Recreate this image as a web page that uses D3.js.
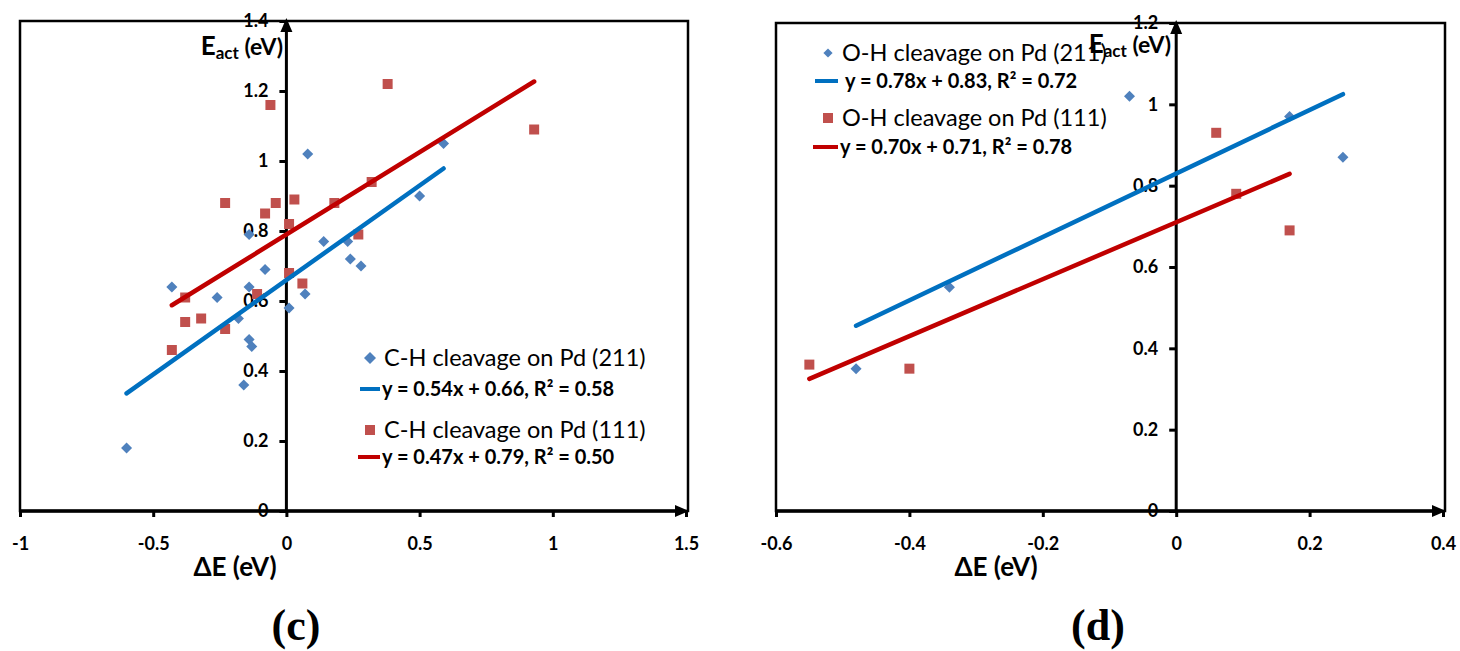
<!DOCTYPE html>
<html>
<head>
<meta charset="utf-8">
<script src="https://cdn.jsdelivr.net/npm/d3@7"></script>
<style>
  html, body { margin: 0; padding: 0; background: #fff; }
  svg { display: block; }
  .tick-label { font-family: Lato, "Open Sans", sans-serif; font-weight: 700; font-size: 18px; fill: #000; }
  .axis-title { font-family: Lato, "Open Sans", sans-serif; font-weight: 700; fill: #000; }
  .legend-name { font-family: Lato, "Open Sans", sans-serif; font-size: 23.5px; fill: #000; }
  .legend-eq { font-family: Lato, "Open Sans", sans-serif; font-weight: 700; font-size: 20px; fill: #000; }
  .panel-tag { font-family: "Liberation Serif", "DejaVu Serif", serif; font-weight: 700; font-size: 44px; fill: #000; }
</style>
</head>
<body>
<svg id="chart" width="1460" height="651"></svg>
<script>
// ---- (c) C-H cleavage: ΔE (eV) vs Eact (eV) ----
const chXTicks = [-1, -0.5, 0, 0.5, 1, 1.5];
const chYTicks = [0, 0.2, 0.4, 0.6, 0.8, 1, 1.2, 1.4];
const ch211 = [
  [-0.60, 0.18], [-0.43, 0.64], [-0.26, 0.61], [-0.18, 0.55], [-0.14, 0.79],
  [-0.14, 0.64], [-0.14, 0.49], [-0.13, 0.47], [-0.16, 0.36], [-0.08, 0.69],
  [0.01, 0.58], [0.07, 0.62], [0.08, 1.02], [0.14, 0.77], [0.23, 0.77],
  [0.24, 0.72], [0.28, 0.70], [0.50, 0.90], [0.59, 1.05]
];
const ch111 = [
  [-0.43, 0.46], [-0.38, 0.61], [-0.38, 0.54], [-0.32, 0.55], [-0.23, 0.88],
  [-0.23, 0.52], [-0.11, 0.62], [-0.08, 0.85], [-0.06, 1.16], [-0.04, 0.88],
  [0.01, 0.82], [0.01, 0.68], [0.03, 0.89], [0.06, 0.65], [0.18, 0.88],
  [0.27, 0.79], [0.32, 0.94], [0.38, 1.22], [0.93, 1.09]
];
// slope, intercept, R²
const chFit211 = [0.54, 0.66, 0.58];
const chFit111 = [0.47, 0.79, 0.50];
const chNames = ["C-H cleavage on Pd (211)", "C-H cleavage on Pd (111)"];

// ---- (d) O-H cleavage ----
const ohXTicks = [-0.6, -0.4, -0.2, 0, 0.2, 0.4];
const ohYTicks = [0, 0.2, 0.4, 0.6, 0.8, 1, 1.2];
const oh211 = [[-0.48, 0.35], [-0.34, 0.55], [-0.07, 1.02], [0.17, 0.97], [0.25, 0.87]];
const oh111 = [[-0.55, 0.36], [-0.40, 0.35], [0.06, 0.93], [0.09, 0.78], [0.17, 0.69]];
const ohFit211 = [0.78, 0.83, 0.72];
const ohFit111 = [0.70, 0.71, 0.78];
const ohNames = ["O-H cleavage on Pd (211)", "O-H cleavage on Pd (111)"];

const markerBlue = "#4F81BD", markerRed = "#C0504D";
const lineBlue = "#0070C0", lineRed = "#C00000";

const svg = d3.select("#chart");
// plain hyphen for negative tick values
const fmt = v => d3.format("~g")(v).replace("\u2212", "-");
const eqText = f => `y = ${f[0].toFixed(2)}x + ${f[1].toFixed(2)}, R\u00B2 = ${f[2].toFixed(2)}`;

const square = s => d3.symbol().type(d3.symbolSquare).size(s * s)();

function drawPanel(cfg) {
  const g = svg.append("g");
  const x = d3.scaleLinear().domain(d3.extent(cfg.xTicks)).range(cfg.xRange);
  const y = d3.scaleLinear().domain(d3.extent(cfg.yTicks)).range(cfg.yRange);
  const x0 = x(0), y0 = y(0);
  const [left, right] = cfg.xRange;
  const top = cfg.yRange[1];

  // plot frame
  g.append("rect")
    .attr("x", left).attr("y", top)
    .attr("width", right + 2 - left).attr("height", y0 - top)
    .attr("fill", "none").attr("stroke", "#000").attr("stroke-width", 2.5);

  // y tick labels (drawn first so the axis lines sit on top)
  const yAxis = d3.axisLeft(y).tickValues(cfg.yTicks).tickFormat(fmt).tickSize(7).tickPadding(11);
  const ya = g.append("g").attr("transform", `translate(${x0},0)`).call(yAxis);
  ya.select(".domain").remove();
  ya.selectAll(".tick line").attr("stroke", "#000").attr("stroke-width", 3);
  ya.selectAll(".tick text").attr("class", "tick-label").attr("font-size", null).attr("font-family", null);

  // x axis ticks + labels
  const xAxis = d3.axisBottom(x).tickValues(cfg.xTicks).tickFormat(fmt).tickSize(6).tickPadding(20);
  const xa = g.append("g").attr("transform", `translate(0,${y0})`).call(xAxis);
  xa.select(".domain").remove();
  xa.selectAll(".tick line").attr("stroke", "#000").attr("stroke-width", 3);
  xa.selectAll(".tick text").attr("class", "tick-label").attr("font-size", null).attr("font-family", null);

  // axis lines with arrowheads
  g.append("line").attr("x1", x0).attr("x2", x0).attr("y1", y0 + 2).attr("y2", top + 8)
    .attr("stroke", "#000").attr("stroke-width", 3);
  g.append("path").attr("d", `M${x0},${top - 3} L${x0 - 6},${top + 11} L${x0 + 6},${top + 11} Z`).attr("fill", "#000");
  g.append("line").attr("x1", left).attr("x2", right - 6).attr("y1", y0).attr("y2", y0)
    .attr("stroke", "#000").attr("stroke-width", 3.5);
  g.append("path").attr("d", `M${right + 3},${y0} L${right - 11},${y0 - 6} L${right - 11},${y0 + 6} Z`).attr("fill", "#000");

  // axis titles
  const ey = g.append("text").attr("class", "axis-title")
    .attr("x", cfg.eact[0]).attr("y", cfg.eact[1]).attr("text-anchor", "end");
  ey.append("tspan").attr("font-size", 26).text("E");
  ey.append("tspan").attr("font-size", 17).attr("dy", 4).text("act");
  ey.append("tspan").attr("font-size", 23).attr("dy", -4).text(" (eV)");
  g.append("text").attr("class", "axis-title").attr("font-size", 26)
    .attr("x", cfg.dE[0]).attr("y", cfg.dE[1]).attr("text-anchor", "middle").text("\u0394E (eV)");
  g.append("text").attr("class", "panel-tag")
    .attr("x", cfg.tag[0]).attr("y", cfg.tag[1]).attr("text-anchor", "middle").text(cfg.tagText);

  // trend lines over each series' ΔE range
  const fitLine = (data, f) => {
    const [a, b] = d3.extent(data, d => d[0]);
    return d3.line().x(d => x(d)).y(d => y(f[0] * d + f[1]))([a, b]);
  };

  // markers
  g.append("g").selectAll("path").data(cfg.s211).join("path")
    .attr("d", square(7.8))
    .attr("transform", d => `translate(${x(d[0])},${y(d[1])}) rotate(45)`)
    .attr("fill", markerBlue);
  g.append("g").selectAll("path").data(cfg.s111).join("path")
    .attr("d", square(10))
    .attr("transform", d => `translate(${x(d[0])},${y(d[1])})`)
    .attr("fill", markerRed);

  g.append("path").attr("d", fitLine(cfg.s211, cfg.f211)).attr("stroke", lineBlue)
    .attr("stroke-width", 4.5).attr("stroke-linecap", "round").attr("fill", "none");
  g.append("path").attr("d", fitLine(cfg.s111, cfg.f111)).attr("stroke", lineRed)
    .attr("stroke-width", 4.5).attr("stroke-linecap", "round").attr("fill", "none");

  // legend
  const L = cfg.legend;
  g.append("path").attr("d", square(L.dSize))
    .attr("transform", `translate(${L.markX},${L.rows[0]}) rotate(45)`).attr("fill", markerBlue);
  g.append("text").attr("class", "legend-name").attr("x", L.textX).attr("y", L.rows[0] + 8).text(cfg.names[0]);
  g.append("line").attr("x1", L.lineX[0]).attr("x2", L.lineX[1]).attr("y1", L.rows[1]).attr("y2", L.rows[1])
    .attr("stroke", lineBlue).attr("stroke-width", 4);
  g.append("text").attr("class", "legend-eq").attr("x", L.eqX[0]).attr("y", L.rows[1] + 7).text(eqText(cfg.f211));
  g.append("path").attr("d", square(10))
    .attr("transform", `translate(${L.markX},${L.rows[2]})`).attr("fill", markerRed);
  g.append("text").attr("class", "legend-name").attr("x", L.textX).attr("y", L.rows[2] + 8).text(cfg.names[1]);
  g.append("line").attr("x1", L.lineX[0] - 2).attr("x2", L.lineX[1]).attr("y1", L.rows[3]).attr("y2", L.rows[3])
    .attr("stroke", lineRed).attr("stroke-width", 4);
  g.append("text").attr("class", "legend-eq").attr("x", L.eqX[1]).attr("y", L.rows[3] + 7).text(eqText(cfg.f111));
}

drawPanel({
  xTicks: chXTicks, yTicks: chYTicks, xRange: [20, 686], yRange: [511, 21],
  s211: ch211, s111: ch111, f211: chFit211, f111: chFit111, names: chNames,
  eact: [283, 55], dE: [235, 576], tag: [296, 640], tagText: "(c)",
  legend: { markX: 370, textX: 384, lineX: [360, 380], eqX: [382, 382], rows: [358, 389, 430, 457], dSize: 8.5 }
});

drawPanel({
  xTicks: ohXTicks, yTicks: ohYTicks, xRange: [776, 1443], yRange: [511, 23],
  s211: oh211, s111: oh111, f211: ohFit211, f111: ohFit111, names: ohNames,
  eact: [1171, 53], dE: [996, 576], tag: [1098, 640], tagText: "(d)",
  legend: { markX: 828, textX: 842, lineX: [815, 838], eqX: [845, 840], rows: [53, 81, 118, 147], dSize: 6.5 }
});
</script>
</body>
</html>
